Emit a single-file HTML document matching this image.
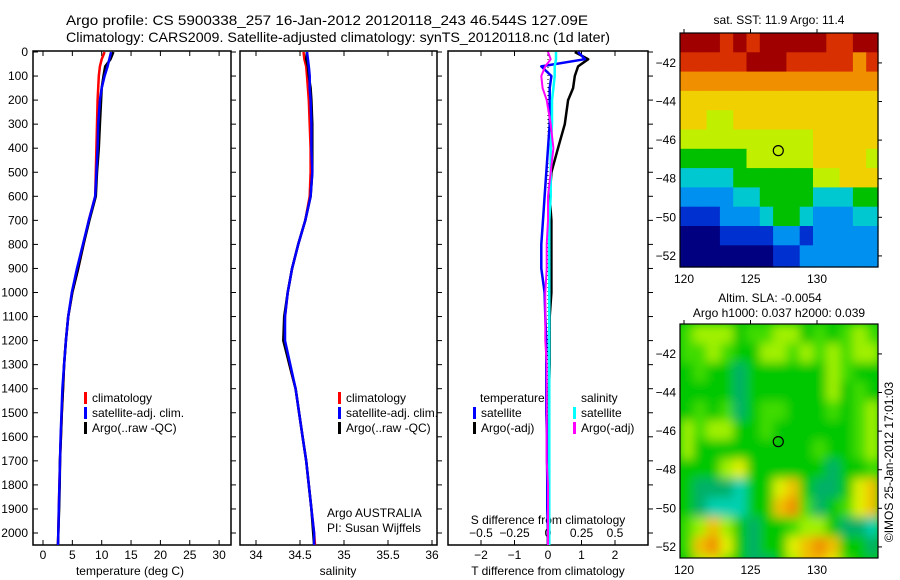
<!DOCTYPE html>
<html><head><meta charset="utf-8"><style>
body{margin:0;background:#fff}
svg{display:block;font-family:"Liberation Sans",sans-serif}
text{font-size:12px;fill:#000}
</style></head><body>
<svg id="c" width="900" height="580" xmlns="http://www.w3.org/2000/svg">
<defs>
<filter id="blur" x="-5%" y="-5%" width="110%" height="110%"><feGaussianBlur stdDeviation="5"/></filter>
<clipPath id="clipSla"><rect x="680" y="324" width="198" height="234"/></clipPath>
</defs>
<text x="66" y="25" style="font-size:14px" textLength="522" lengthAdjust="spacingAndGlyphs">Argo profile: CS 5900338_257 16-Jan-2012 20120118_243 46.544S 127.09E</text>
<text x="66" y="42" style="font-size:14px" textLength="544" lengthAdjust="spacingAndGlyphs">Climatology: CARS2009. Satellite-adjusted climatology: synTS_20120118.nc (1d later)</text>
<g id="g"></g>
</svg>
<script>
// ---------- data ----------
const depthT=[0,30,60,100,150,200,300,400,500,600,700,800,900,1000,1100,1200,1300,1400,1500,1600,1700,1800,1900,2000,2050];
const tempClim=[10.5,10.0,9.7,9.5,9.4,9.3,9.2,9.1,9.0,8.9,7.8,6.9,6.0,5.0,4.3,3.9,3.6,3.4,3.2,3.05,2.9,2.8,2.7,2.6,2.55];
const tempSat=[11.6,11.3,11.0,10.5,10.0,9.7,9.4,9.3,9.1,8.9,7.8,6.8,5.8,4.9,4.3,3.9,3.6,3.3,3.15,3.0,2.9,2.8,2.7,2.6,2.55];
const tempArgo=[12.0,11.5,10.6,10.3,10.0,9.9,9.7,9.5,9.2,9.0,7.9,6.9,6.0,5.0,4.3,3.9,3.6,3.4,3.2,3.05,2.9,2.85,2.75,2.6,2.55];
const salClim=[34.54,34.55,34.57,34.58,34.59,34.60,34.61,34.62,34.62,34.61,34.56,34.48,34.41,34.36,34.33,34.32,34.38,34.45,34.49,34.53,34.57,34.60,34.63,34.66,34.67];
const salSat=[34.58,34.59,34.60,34.61,34.61,34.62,34.63,34.63,34.64,34.62,34.56,34.48,34.41,34.36,34.33,34.33,34.39,34.45,34.49,34.53,34.57,34.60,34.63,34.66,34.66];
const salArgo=[34.58,34.57,34.59,34.60,34.62,34.63,34.64,34.64,34.64,34.62,34.56,34.48,34.41,34.36,34.32,34.31,34.38,34.45,34.49,34.53,34.57,34.60,34.63,34.65,34.66];
const tdiffSat=[0.9,1.1,-0.2,0.1,0.05,0.05,0.05,0.0,-0.05,-0.1,-0.15,-0.2,-0.2,-0.1,-0.08,-0.05,-0.05,-0.05,-0.05,-0.03,-0.03,-0.02,-0.02,0.0,0.0];
const tdiffArgo=[0.8,1.2,0.9,0.8,0.75,0.6,0.5,0.3,0.1,0.05,0.1,0.1,0.1,0.1,0.05,0.05,0.05,0.03,0.03,0.02,0.02,0.02,0.01,0.0,0.0];
const sdiffSat=[0.06,0.06,0.05,0.05,0.04,0.03,0.03,0.02,0.02,0.02,0.01,0.01,0.01,0.01,0.01,0.01,0.01,0.01,0.01,0.01,0.01,0.01,0.01,0.01,0.01];
const sdiffArgo=[0.0,0.02,-0.02,-0.05,-0.04,-0.01,0.02,0.04,0.02,0.0,0.0,-0.01,-0.01,-0.02,-0.02,-0.02,-0.01,-0.01,-0.01,-0.01,-0.01,0.0,0.0,0.0,0.0];
const depthTicks=[0,100,200,300,400,500,600,700,800,900,1000,1100,1200,1300,1400,1500,1600,1700,1800,1900,2000];
const tempTicks=[0,5,10,15,20,25,30];
const salTicks=[34,34.5,35,35.5,36];
const tdTicks=[-2,-1,0,1,2];
const sdTicks=[-0.5,-0.25,0,0.25,0.5];
const lonTicks=[120,125,130];
const latTicks=[-42,-44,-46,-48,-50,-52];
const sstRows=["999898999998899","888889998888878","777777777777777","666666666666666","665566666666666","555555555566666","444445555566665","333344444455666","222233444433344","111222344322233","000111122122222","000000011222222","000000011222222"];
const slaRows=["344423344232343","334322443434344","232212222224322","222212222224232","232312332223234","434422322222234","422222222232234","222452222221223","211102256211256","210002267312356","346421223442110","367521225676221","245321124665322"];
const sstPal=["#000080","#0030d0","#0090f0","#00c8d0","#00c000","#c0f000","#f0d000","#f09000","#d83000","#a00000"];
const slaPal=["#00d0b0","#00b068","#00c800","#40dc00","#a0f000","#e0f000","#f0c000","#f09000"];
// ---------- helpers ----------
const NS="http://www.w3.org/2000/svg",G=document.getElementById('g');
function el(t,a,txt,parent){const e=document.createElementNS(NS,t);for(const k in a)e.setAttribute(k,a[k]);if(txt!==undefined&&txt!==null)e.textContent=txt;(parent||G).appendChild(e);return e;}
const yD=d=>52+d*0.2405;
const TOP=51,BOT=545;
function panel(x0,x1,name){
  const r=el('rect',{x:x0,y:TOP,width:x1-x0,height:BOT-TOP,fill:'none',stroke:'#000','stroke-width':1.5});
  
  
  depthTicks.forEach(d=>{const t=el('line',{x1:x1,x2:x1+5,y1:yD(d),y2:yD(d),stroke:'#000'});
    
    });
}
function xticks(ticks,sx,name,labelY){
  ticks.forEach(v=>{const x=sx(v);
    const a=el('line',{x1:x,x2:x,y1:BOT,y2:BOT-5,stroke:'#000'});
    const b=el('line',{x1:x,x2:x,y1:TOP,y2:TOP+5,stroke:'#000'});
    const t=el('text',{x:x,y:labelY,'text-anchor':'middle'},String(v).replace('-','\u2212'));
    });
}
function line(vals,sx,color,name,w){
  const p=vals.map((v,i)=>(i?'L':'M')+sx(v).toFixed(1)+' '+yD(depthT[i]).toFixed(1)).join('');
  const e=el('path',{d:p,fill:'none',stroke:color,'stroke-width':w||2.5,'stroke-linejoin':'round'});
  
}
function legItem(x,y,color,label,name){
  const b=el('rect',{x:x,y:y-10,width:3,height:12,fill:color});
  const t=el('text',{x:x+8,y:y},label);
}
// ---------- panel 1 temperature ----------
const sxT=v=>43+v*5.87;
panel(33,231,'temperature-panel');
depthTicks.forEach(d=>{const t=el('text',{x:28,y:yD(d)+4,'text-anchor':'end'},String(d));
  
  const k=el('line',{x1:33,x2:38,y1:yD(d),y2:yD(d),stroke:'#000'});});
xticks(tempTicks,sxT,'temperature-axis',559);
el('text',{x:130,y:575,'text-anchor':'middle',},'temperature (deg C)');
line(tempClim,sxT,'#f00','temperature-climatology-line');
line(tempArgo,sxT,'#000','temperature-argo-line');
line(tempSat,sxT,'#00f','temperature-satellite-line');
legItem(84,402,'#f00','climatology','legend-climatology');
legItem(84,417,'#00f','satellite-adj. clim.','legend-satellite');
legItem(84,432,'#000','Argo(..raw -QC)','legend-argo');
// ---------- panel 2 salinity ----------
const sxS=v=>256+(v-34)*88;
panel(240,437,'salinity-panel');
xticks(salTicks,sxS,'salinity-axis',559);
el('text',{x:338,y:575,'text-anchor':'middle',},'salinity');
line(salClim,sxS,'#f00','salinity-climatology-line');
line(salArgo,sxS,'#000','salinity-argo-line');
line(salSat,sxS,'#00f','salinity-satellite-line');
legItem(338,402,'#f00','climatology','legend2-climatology');
legItem(338,417,'#00f','satellite-adj. clim.','legend2-satellite');
legItem(338,432,'#000','Argo(..raw -QC)','legend2-argo');
el('text',{x:327,y:517,},'Argo AUSTRALIA');
el('text',{x:327,y:532,},'PI: Susan Wijffels');
// ---------- panel 3 differences ----------
const sxTD=v=>548+v*33.5, sxSD=v=>548+v*134;
panel(448,648,'difference-panel');
xticks(tdTicks,sxTD,'t-diff-axis',559);
sdTicks.forEach(v=>{const t=el('text',{x:sxSD(v),y:537,'text-anchor':'middle'},String(v).replace('-','\u2212'));
  });
el('text',{x:548,y:524,'text-anchor':'middle',},'S difference from climatology');
el('text',{x:548,y:575,'text-anchor':'middle',},'T difference from climatology');
el('line',{x1:548,x2:548,y1:TOP,y2:BOT,stroke:'#000','stroke-dasharray':'1 3',});
line(tdiffArgo,sxTD,'#000','t-diff-argo-line',2.5);
line(tdiffSat,sxTD,'#00f','t-diff-satellite-line',2.5);
line(sdiffSat,sxSD,'#0ff','s-diff-satellite-line',2.5);
line(sdiffArgo,sxSD,'#f0f','s-diff-argo-line',2);
el('text',{x:480,y:402,},'temperature');
el('text',{x:581,y:402,},'salinity');
legItem(473,417,'#00f','satellite','legend3-t-satellite');
legItem(473,432,'#000','Argo(-adj)','legend3-t-argo');
legItem(573,417,'#0ff','satellite','legend3-s-satellite');
legItem(573,432,'#f0f','Argo(-adj)','legend3-s-argo');
// ---------- maps ----------
function map(top,rows,pal,name,smooth){
  const x0=680,x1=878,h=234,lon0=119.7,lat0=-40.45,pxLon=13.3,pxLat=19.3;
  const sx=v=>x0+(v-lon0)*pxLon, sy=v=>top+(lat0-v)*pxLat;
  let host=G;
  if(smooth){
    const outer=el('g',{'clip-path':'url(#clipSla)'});
    
    const bg=el('rect',{x:x0,y:top,width:x1-x0,height:h,fill:pal[2]},null,outer);
    
    host=el('g',{filter:'url(#blur)'},null,outer);
    
  }
  rows.forEach((r,ri)=>{for(let ci=0;ci<r.length;ci++){
    const lonA=lon0+ci, latA=lat0-ri;
    const x=sx(lonA),y=sy(latA);
    let w=Math.min(pxLon,x1-x),hh=Math.min(pxLat,top+h-y);
    if(smooth){w=pxLon;hh=pxLat;}
    if(w<=0||hh<=0)continue;
    const c=el('rect',{x:x.toFixed(1),y:y.toFixed(1),width:(w+0.6).toFixed(1),height:(hh+0.6).toFixed(1),fill:pal[+r[ci]]},null,host);
    }});
  const f=el('rect',{x:x0,y:top,width:x1-x0,height:h,fill:'none',stroke:'#000','stroke-width':1.2});
  
  latTicks.forEach(v=>{const y=sy(v);
    const t=el('text',{x:676,y:y+4,'text-anchor':'end'},String(v).replace('-','\u2212'));
    const k=el('line',{x1:x1,x2:x1+4,y1:y,y2:y,stroke:'#000'});});
  lonTicks.forEach(v=>{const x=sx(v);
    const t=el('text',{x:x,y:top+h+16,'text-anchor':'middle'},String(v));
    const k=el('line',{x1:x,x2:x,y1:top,y2:top-4,stroke:'#000'});});
  const m=el('circle',{cx:sx(127.09),cy:sy(-46.544),r:5,fill:'none',stroke:'#000','stroke-width':1.2});
  
}
map(33,sstRows,sstPal,'sst-map',false);
el('text',{x:779,y:24,'text-anchor':'middle',},'sat. SST: 11.9 Argo: 11.4');
map(324,slaRows,slaPal,'sla-map',true);
el('text',{x:770,y:302,'text-anchor':'middle',},'Altim. SLA: -0.0054');
el('text',{x:779,y:317,'text-anchor':'middle',},'Argo h1000: 0.037 h2000: 0.039');
el('text',{x:0,y:0,transform:'translate(893,462) rotate(-90)','text-anchor':'middle',},'\u00a9IMOS 25-Jan-2012 17:01:03');
</script>
</body></html>
